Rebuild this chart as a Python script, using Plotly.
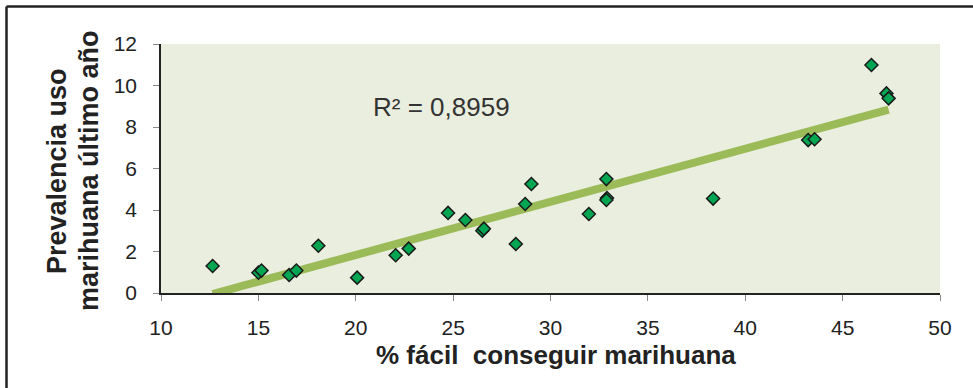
import numpy as np
import plotly.graph_objects as go

# Data
pct_facil = [12.65, 15.00, 15.16, 16.58, 16.95, 18.08, 20.07, 22.05, 22.72, 24.74,
             25.63, 26.50, 26.58, 28.22, 28.70, 29.02, 31.97, 32.87, 32.90, 32.87,
             38.35, 43.23, 43.56, 46.48, 47.25, 47.36]
prevalencia = [1.30, 0.98, 1.08, 0.87, 1.08, 2.28, 0.74, 1.82, 2.14, 3.86,
               3.52, 3.00, 3.10, 2.36, 4.29, 5.25, 3.81, 5.49, 4.58, 4.48,
               4.55, 7.37, 7.41, 10.99, 9.62, 9.38]
r2_label = "R² = 0,8959"
x_title = "% fácil  conseguir marihuana"
y_title_lines = ["Prevalencia uso", "marihuana último año"]
x_ticks = [10, 15, 20, 25, 30, 35, 40, 45, 50]
y_ticks = [0, 2, 4, 6, 8, 10, 12]

xs = np.array(pct_facil)
ys = np.array(prevalencia)
slope, intercept = np.polyfit(xs, ys, 1)
trend_x = [xs.min(), xs.max()]
trend_y = [slope * v + intercept for v in trend_x]

FONT = "Liberation Sans, Arial, sans-serif"

fig = go.Figure()
fig.add_trace(go.Scatter(
    x=trend_x, y=trend_y, mode="lines",
    line=dict(color="#9BBB59", width=8),
    hoverinfo="skip", cliponaxis=False))
fig.add_trace(go.Scatter(
    x=pct_facil, y=prevalencia, mode="markers",
    marker=dict(symbol="diamond", size=10, color="#00A651",
                line=dict(color="#1a1a1a", width=1.5)),
    cliponaxis=False))

W, H = 973, 388
L, T = 161, 44
pw, ph = 779, 249
R = W - L - pw
B = H - T - ph

def px_x(p):
    return (p - L) / pw

def px_y(p):
    return (T + ph - p) / ph

annotations = [
    dict(text=r2_label, xref="paper", yref="paper", x=px_x(441), y=px_y(107),
         xanchor="center", yanchor="middle", showarrow=False,
         font=dict(size=26, family=FONT, color="#333333")),
    dict(text="<b>" + x_title + "</b>", xref="paper", yref="paper",
         x=px_x(556), y=px_y(355), xanchor="center", yanchor="middle",
         showarrow=False, font=dict(size=26, family=FONT, color="#222222")),
]
for txt, cx in zip(y_title_lines, [57, 89]):
    annotations.append(dict(
        text="<b>" + txt + "</b>", xref="paper", yref="paper",
        x=px_x(cx), y=px_y(171), xanchor="center", yanchor="middle",
        textangle=-90, showarrow=False,
        font=dict(size=27, family=FONT, color="#222222")))

border = dict(color="#222222", width=2.5)
fig.update_layout(
    width=W, height=H,
    margin=dict(l=L, r=R, t=T, b=B),
    paper_bgcolor="white",
    plot_bgcolor="#EAEEDE",
    showlegend=False,
    font=dict(family=FONT, color="#222222"),
    xaxis=dict(range=[10, 50], tickvals=x_ticks, showgrid=False, zeroline=False,
               showline=True, linecolor="#222222", linewidth=1.5,
               ticks="outside", ticklen=6, tickcolor="#888888", tickwidth=1,
               tickfont=dict(size=21, family=FONT, color="#222222"),
               ticklabelstandoff=9),
    yaxis=dict(range=[0, 12], tickvals=y_ticks, showgrid=False, zeroline=False,
               showline=True, linecolor="#222222", linewidth=1.5,
               ticks="outside", ticklen=6, tickcolor="#888888", tickwidth=1,
               tickfont=dict(size=21, family=FONT, color="#222222"),
               ticklabelstandoff=12),
    annotations=annotations,
    shapes=[
        dict(type="line", xref="paper", yref="paper",
             x0=px_x(6.5), x1=px_x(6.5), y0=px_y(400), y1=px_y(6.5), line=border),
        dict(type="line", xref="paper", yref="paper",
             x0=px_x(6.5), x1=px_x(990), y0=px_y(6.5), y1=px_y(6.5), line=border),
    ],
)

fig.write_html("out.html", config={"displayModeBar": False},
               post_script="document.body.style.margin='0';document.body.style.overflow='hidden';")
